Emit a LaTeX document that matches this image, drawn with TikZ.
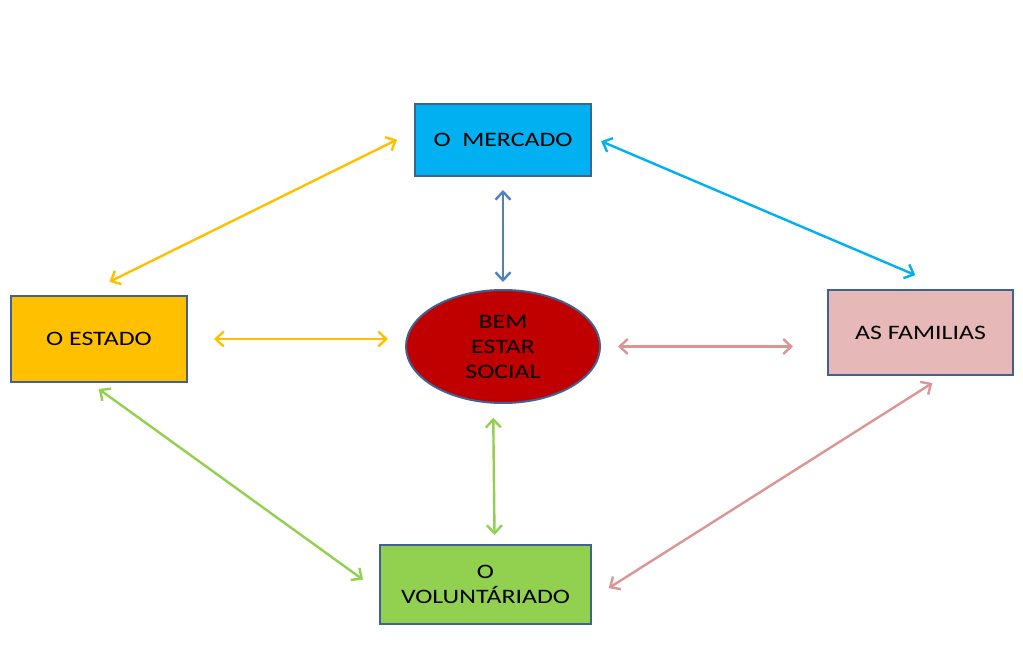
\documentclass[tikz,border=0pt]{standalone}
\usepackage{fontspec}
\setmainfont{Carlito}[FakeStretch=1.26]
\usetikzlibrary{positioning,calc,arrows.meta,shapes.geometric}

\definecolor{rim}{HTML}{3F6293}
\definecolor{cMercado}{HTML}{00B0F0}
\definecolor{cEstado}{HTML}{FFC000}
\definecolor{cFamilias}{HTML}{E6B9B8}
\definecolor{cVolunt}{HTML}{92D050}
\definecolor{cBem}{HTML}{C00000}
\definecolor{cSteel}{HTML}{4F81BD}
\definecolor{cRose}{HTML}{D99694}

\tikzset{font=\fontsize{20.5}{25}\selectfont}
\tikzset{
	box/.style={draw=rim, line width=2pt, minimum width=#1, outer sep=0pt, align=center, text=black},
	link/.style={line width=2.4pt, line cap=round, {Straight Barb[length=8pt,width=15pt]}-{Straight Barb[length=8pt,width=15pt]}},
}

\begin{document}
\begin{tikzpicture}[x=1pt, y=-1pt]
	\useasboundingbox (0, 0) rectangle (1023, 647);
	\begin{scope}
		\node [box=176pt, minimum height=72pt, fill=cMercado] (mercado) at (503, 140) {O \ MERCADO};
		\node [box=176pt, minimum height=86pt, fill=cEstado] (estado) at (99, 339) {O ESTADO};
		\node [box=185pt, minimum height=85pt, fill=cFamilias] (familias) at (920.5, 332.5) {AS FAMILIAS};
		\node [box=211pt, minimum height=79pt, fill=cVolunt] (volunt) at (485.5, 584.5) {O\\VOLUNTÁRIADO};
		\node [box=194pt, minimum height=113pt, ellipse, fill=cBem, inner sep=0pt] (bem) at (503, 346.5) {BEM\\ESTAR\\SOCIAL};

		\draw [link, cEstado, shorten <=20pt, shorten >=32pt] (mercado.174.9) to (estado.113.4);
		\draw [link, cMercado, shorten <=11pt, shorten >=38pt] (mercado.2.15) to (familias.55.1);
		\draw [link, cVolunt, shorten <=12pt, shorten >=21pt] (estado.257.4) to (volunt.184.8);
		\draw [link, cRose, shorten <=15pt, shorten >=21pt] (familias.300.7) to (volunt.352.5);

		\draw [link, cEstado, shorten <=27pt, shorten >=18pt] (estado.east) to (bem.west |- estado.east);
		\draw [link, cRose, shorten <=18pt, shorten >=35pt] (bem.east) to (bem.east -| familias.west);
		\draw [link, cSteel, shorten <=14pt, shorten >=8pt] (mercado.south) to (bem.north);
		\draw [link, cVolunt, shorten <=15pt, shorten >=10pt] (bem.260.9) to (volunt.77.9);
	\end{scope}
\end{tikzpicture}
\end{document}
